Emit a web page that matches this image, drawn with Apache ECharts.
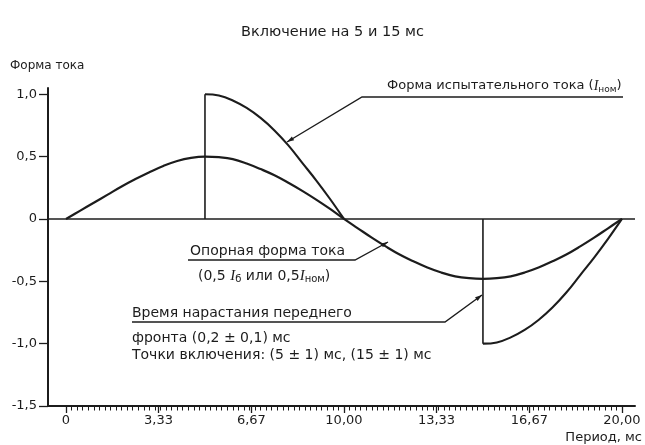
<!DOCTYPE html>
<html><head><meta charset="utf-8">
<script src="https://cdn.jsdelivr.net/npm/echarts@6/dist/echarts.min.js"></script>
<style>html,body{margin:0;padding:0;background:#fff}#c{width:645px;height:445px}</style>
</head><body><div id="c"></div>
<script>
// ---- data ----
// reference current form (0.5 I)
const refTimes = [0,0.5,1,1.5,2,2.5,3,3.5,4,4.5,5,5.5,6,6.5,7,7.5,8,8.5,9,9.5,10,10.5,11,11.5,12,12.5,13,13.5,14,14.5,15,15.5,16,16.5,17,17.5,18,18.5,19,19.5,20];
const refValues = [0,0.065,0.13,0.195,0.26,0.32,0.375,0.425,0.465,0.49,0.50,0.495,0.48,0.445,0.40,0.35,0.29,0.225,0.155,0.08,0,-0.075,-0.15,-0.22,-0.285,-0.34,-0.39,-0.43,-0.46,-0.475,-0.48,-0.475,-0.46,-0.43,-0.39,-0.34,-0.285,-0.22,-0.15,-0.075,0];
// test current form (I nom): switched on at 5 ms and at 15 ms, zero elsewhere
const pulse1Times = [5,5.5,6,6.5,7,7.5,8,8.5,9,9.5,10];
const pulse1Values = [1.0,0.99,0.95,0.89,0.81,0.71,0.59,0.45,0.31,0.16,0];
const pulse2Times = [15,15.5,16,16.5,17,17.5,18,18.5,19,19.5,20];
const pulse2Values = [-1.0,-0.99,-0.95,-0.89,-0.81,-0.71,-0.59,-0.45,-0.31,-0.16,0];
const xTickValues = [0,3.33,6.67,10,13.33,16.67,20];
const xTickLabels = ['0','3,33','6,67','10,00','13,33','16,67','20,00'];
const yTickValues = [-1.5,-1,-0.5,0,0.5,1];
const yTickLabels = ['-1,5','-1,0','-0,5','0','0,5','1,0'];
const titleText = 'Включение на 5 и 15 мс';
const yName = 'Форма тока';
const xName = 'Период, мс';

// fine ticks along the time axis
const fineTicks = [];
for (let i = 0; i <= 100; i++) fineTicks.push(+(i * 0.2).toFixed(1));

const INK = '#1c1c1c';
const FONT = '"DejaVu Sans", Verdana, sans-serif';

function arrowHead(tip, from, len, half) {
  const dx = tip[0] - from[0], dy = tip[1] - from[1];
  const d = Math.sqrt(dx*dx + dy*dy), ux = dx/d, uy = dy/d;
  const bx = tip[0] - ux*len, by = tip[1] - uy*len;
  return {type:'polygon', shape:{points:[tip,[bx - uy*half, by + ux*half],[bx + uy*half, by - ux*half]]}, style:{fill:INK}};
}
function leader(points) {
  const n = points.length;
  return [
    {type:'polyline', shape:{points}, style:{stroke:INK, lineWidth:1.4, fill:null}},
    arrowHead(points[n-1], points[n-2], 7, 2.2)
  ];
}
function txt(x, y, text, size, rich, va) {
  return {type:'text', x, y, style:{text, fill:INK, font:size + 'px ' + FONT, verticalAlign: va || 'middle', rich}};
}
function mkRich(size) {
  return {
    n:{fontSize:size, fontFamily:FONT, color:INK},
    i:{fontSize:size + 1, fontStyle:'italic', fontFamily:'"Liberation Serif", serif', color:INK},
    s:{fontSize:size - 4, fontFamily:FONT, color:INK, padding:[7,0,0,0]}
  };
}
const zip = (a, b) => a.map((t, i) => [t, b[i]]);
const lineBase = {type:'line', showSymbol:false, silent:true, lineStyle:{color:INK, width:2.1}};

const chart = echarts.init(document.getElementById('c'), null, {renderer:'canvas'});
chart.setOption({
  backgroundColor:'#fff',
  animation:false,
  title:{text:titleText, left:236, top:20, textStyle:{fontSize:14.5, fontWeight:'normal', color:INK, fontFamily:FONT}},
  grid:{left:48, right:10, top:88, bottom:39},
  xAxis:[{
    type:'value', min:-0.647, max:20.47,
    axisLine:{onZero:false, lineStyle:{color:INK, width:2}},
    splitLine:{show:false},
    axisTick:{show:true, customValues:xTickValues, length:7, lineStyle:{color:INK, width:1.3}},
    axisLabel:{customValues:xTickValues, color:INK, fontSize:13, fontFamily:FONT, margin:8,
      formatter:v => { const k = xTickValues.findIndex(t => Math.abs(t - v) < 1e-6); return k >= 0 ? xTickLabels[k] : ''; }}
  },{
    type:'value', min:-0.647, max:20.47, position:'bottom',
    axisLine:{show:false, onZero:false}, splitLine:{show:false}, axisLabel:{show:false},
    axisTick:{show:true, customValues:fineTicks, length:4.5, lineStyle:{color:INK, width:1}}
  }],
  yAxis:{
    type:'value', min:-1.5, max:1.05,
    axisLine:{show:true, onZero:false, lineStyle:{color:INK, width:2}},
    splitLine:{show:false},
    axisTick:{show:true, customValues:yTickValues, length:9, lineStyle:{color:INK, width:1.3}},
    axisLabel:{customValues:yTickValues, color:INK, fontSize:13, fontFamily:FONT, margin:11,
      formatter:v => { const k = yTickValues.findIndex(t => Math.abs(t - v) < 1e-6); return k >= 0 ? yTickLabels[k] : ''; }}
  },
  series:[
    Object.assign({}, lineBase, {name:'ref', smooth:0.4, data:zip(refTimes, refValues),
      lineStyle:{color:INK, width:2.2},
      markLine:{silent:true, symbol:['none','none'], label:{show:false},
        lineStyle:{color:INK, width:1.5, type:'solid'}, data:[{yAxis:0}]}}),
    Object.assign({}, lineBase, {name:'test1', smooth:0.4, data:zip(pulse1Times, pulse1Values)}),
    Object.assign({}, lineBase, {name:'test2', smooth:0.4, data:zip(pulse2Times, pulse2Values)}),
    Object.assign({}, lineBase, {name:'front1', data:[[pulse1Times[0], 0], [pulse1Times[0], pulse1Values[0]]], lineStyle:{color:INK, width:1.6}}),
    Object.assign({}, lineBase, {name:'front2', data:[[pulse2Times[0], 0], [pulse2Times[0], pulse2Values[0]]], lineStyle:{color:INK, width:1.6}})
  ],
  graphic:[
    txt(10, 66, yName, 12),
    {type:'text', right:3, top:431, style:{text:xName, fill:INK, font:'13px ' + FONT}},
    ...leader([[623,97],[362,97],[287,142]]),
    txt(387, 94, '{n|Форма испытательного тока (}{i|I}{s|ном}{n|)}', 13, mkRich(13), 'bottom'),
    ...leader([[188,260],[355,260],[388,242]]),
    txt(190, 258, 'Опорная форма тока', 14, null, 'bottom'),
    txt(198, 276, '{n|(0,5 }{i|I}{s|б}{n| или 0,5}{i|I}{s|ном}{n|)}', 14, mkRich(14)),
    ...leader([[132,322],[445,322],[482,295]]),
    txt(132, 320, 'Время нарастания переднего', 14, null, 'bottom'),
    txt(132, 338, 'фронта (0,2 ± 0,1) мс', 14),
    txt(132, 355, 'Точки включения: (5 ± 1) мс, (15 ± 1) мс', 14)
  ]
});
</script>
</body></html>
